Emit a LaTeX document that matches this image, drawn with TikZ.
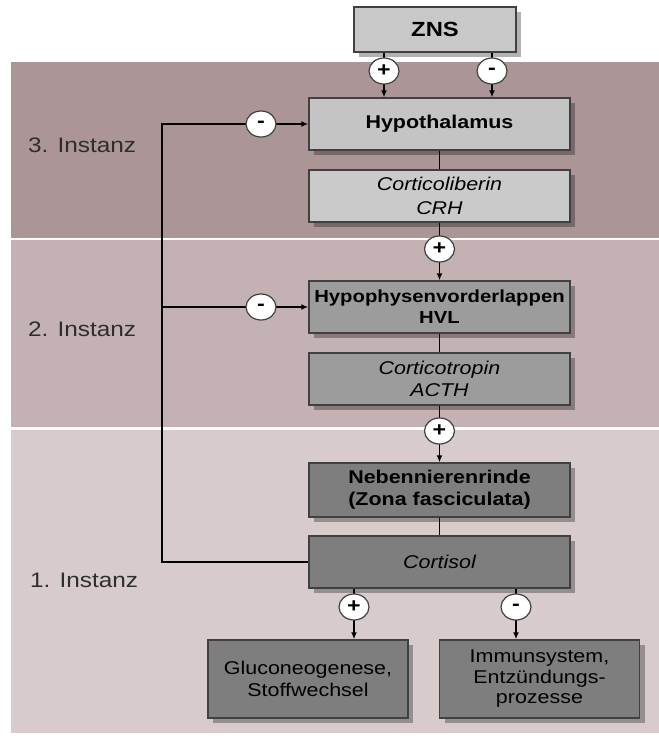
\documentclass[tikz,border=0pt]{standalone}
\usepackage{fontspec}
\setmainfont{Liberation Sans}[FakeStretch=1.16]
\usetikzlibrary{shapes.geometric,shadows,arrows.meta}
\definecolor{bandA}{HTML}{AB9597}
\definecolor{bandB}{HTML}{C4B1B3}
\definecolor{bandC}{HTML}{D7CBCC}
\definecolor{boxZ}{HTML}{C8C8C8}
\definecolor{boxL}{HTML}{C4C4C4}
\definecolor{boxLL}{HTML}{CACACA}
\definecolor{boxM}{HTML}{9C9C9C}
\definecolor{boxD}{HTML}{7E7E7E}
\definecolor{edge}{HTML}{404040}
\definecolor{labtxt}{HTML}{2E2E2E}
\begin{document}
\begin{tikzpicture}[x=1pt,y=-1pt,
 box/.style={rectangle,draw=edge,line width=1.4pt,align=center,inner sep=0pt,
   font=\fontsize{18.5}{22}\selectfont,
   drop shadow={shadow xshift=5pt,shadow yshift=-5pt,opacity=0.3,fill=black}},
 mainbox/.style={box,minimum width=261pt,minimum height=52pt},
 sidebox/.style={box,minimum width=200pt,minimum height=78pt,fill=boxD},
 sign/.style={ellipse,draw=edge,line width=1.2pt,fill=white,minimum width=30pt,
   minimum height=26pt,inner sep=0pt,font=\fontsize{20}{20}\selectfont\bfseries},
 lab/.style={anchor=west,inner sep=0pt,text=labtxt,font=\fontsize{21}{24}\selectfont},
 conn/.style={line width=1.4pt,black},
 arr/.style={conn,-{Latex[length=7pt,width=6pt]}},
 fb/.style={line width=1.8pt,black}
]
\useasboundingbox (0,0) rectangle (659,740);
\fill[white] (0,0) rectangle (659,740);
\fill[bandA] (10.5,62) rectangle (659,238);
\fill[bandB] (10.5,240) rectangle (659,427);
\fill[bandC] (10.5,430) rectangle (659,733);

% labels
\node[lab] (l3) at (28,145) {3. Instanz};
\node[lab] (l2) at (28,329) {2. Instanz};
\node[lab] (l1) at (30,580) {1. Instanz};

% boxes
\node[box,fill=boxZ,minimum width=162pt,minimum height=45pt,
      font=\fontsize{20.5}{24}\selectfont\bfseries] (zns) at (435,29.5) {ZNS};
\node[mainbox,fill=boxL] (hyp) at (439.5,124) {\bfseries Hypothalamus};
\node[mainbox,fill=boxLL,font=\fontsize{18.5}{24}\selectfont\itshape] (crh) at (439.5,196) {Corticoliberin\\CRH};
\node[mainbox,fill=boxM,font=\fontsize{17.5}{21}\selectfont\bfseries] (hvl) at (439.5,307) {Hypophysenvorderlappen\\HVL};
\node[mainbox,fill=boxM,font=\fontsize{18.5}{22}\selectfont\itshape] (acth) at (439.5,379) {Corticotropin\\ACTH};
\node[mainbox,fill=boxD,minimum height=54pt,font=\fontsize{18.5}{22}\selectfont\bfseries] (nnr) at (439.5,490) {Nebennierenrinde\\(Zona fasciculata)};
\node[mainbox,fill=boxD,font=\fontsize{18.5}{22}\selectfont\itshape] (cort) at (439.5,562) {Cortisol};
\node[sidebox] (glu) at (308,679) {Gluconeogenese,\\Stoffwechsel};
\node[sidebox,font=\fontsize{18.5}{20.5}\selectfont] (imm) at (539.5,679) {Immunsystem,\\Entzündungs-\\prozesse};

% sign positions
\coordinate (p1) at (384,71);
\coordinate (m1) at (492,71);
\coordinate (fb3) at (261,124);
\coordinate (fb2) at (261,307);
\coordinate (p2) at (439.5,249);
\coordinate (p3) at (439.5,431);
\coordinate (p4) at (354,607);
\coordinate (m4) at (516,607);

% ZNS to hypothalamus
\draw[conn] (zns.south -| p1) -- (p1);
\draw[arr] (p1) -- (p1 |- hyp.north);
\draw[conn] (zns.south -| m1) -- (m1);
\draw[arr] (m1) -- (m1 |- hyp.north);

% main chain
\draw[conn] (hyp) -- (crh);
\draw[conn] (crh) -- (p2);
\draw[arr] (p2) -- (hvl);
\draw[conn] (hvl) -- (acth);
\draw[conn] (acth) -- (p3);
\draw[arr] (p3) -- (nnr);
\draw[conn] (nnr) -- (cort);

% cortisol effects
\draw[conn] (cort.south -| p4) -- (p4);
\draw[arr] (p4) -- (p4 |- glu.north);
\draw[conn] (cort.south -| m4) -- (m4);
\draw[arr] (m4) -- (m4 |- imm.north);

% feedback
\coordinate (fbb) at (162,562);
\coordinate (fbt) at (162,124);
\coordinate (fbm) at (162,307);
\draw[fb] (cort.west) -- (fbb) -- (fbt) -- (fb3);
\draw[fb] (fbm) -- (fb2);
\draw[arr] (fb3) -- (hyp.west);
\draw[arr] (fb2) -- (hvl.west);

% sign nodes above lines
\node[sign] (s1) at (p1) {+};
\node[sign] (s2) at (m1) {-};
\node[sign] (s3) at (fb3) {-};
\node[sign] (s4) at (fb2) {-};
\node[sign] (s5) at (p2) {+};
\node[sign] (s6) at (p3) {+};
\node[sign] (s7) at (p4) {+};
\node[sign] (s8) at (m4) {-};
\end{tikzpicture}
\end{document}
